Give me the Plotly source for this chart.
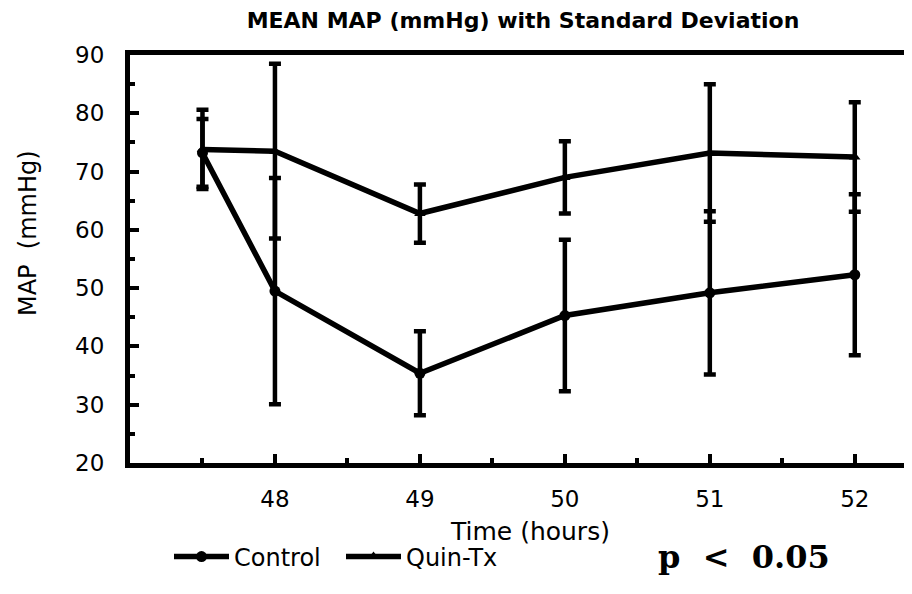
import plotly.graph_objects as go

# ---- data ----
time_hours = [47.5, 48, 49, 50, 51, 52]
control_mean = [73.2, 49.5, 35.4, 45.3, 49.2, 52.3]
control_sd = [5.8, 19.4, 7.2, 13.0, 14.0, 13.8]
quin_mean = [73.8, 73.5, 62.8, 69.0, 73.2, 72.5]
quin_sd = [6.8, 15.0, 5.0, 6.2, 11.8, 9.4]
x_tick_vals = [48, 49, 50, 51, 52]
y_tick_vals = [20, 30, 40, 50, 60, 70, 80, 90]

FONT = "DejaVu Sans"
W, H = 912, 594
L, R, T, B = 122, 0, 47, 139
PW, PH = W - L - R, H - T - B

fig = go.Figure()
fig.add_trace(go.Scatter(
    x=time_hours, y=quin_mean, name="Quin-Tx", mode="lines+markers",
    line=dict(color="black", width=5.5),
    marker=dict(symbol="triangle-up", size=10, color="black"),
    error_y=dict(type="data", array=quin_sd, visible=True, color="black",
                 thickness=4.5, width=6),
))
fig.add_trace(go.Scatter(
    x=time_hours, y=control_mean, name="Control", mode="lines+markers",
    line=dict(color="black", width=5.5),
    marker=dict(symbol="circle", size=11, color="black"),
    error_y=dict(type="data", array=control_sd, visible=True, color="black",
                 thickness=4.5, width=6),
))

fig.update_layout(
    width=W, height=H,
    margin=dict(l=L, r=R, t=T, b=B, autoexpand=False),
    paper_bgcolor="white", plot_bgcolor="white",
    font=dict(family=FONT, color="black", size=20),
    title=dict(text="<b>MEAN MAP (mmHg) with Standard Deviation</b>",
               font=dict(family=FONT, size=22, color="black"),
               x=515 / W, xref="container", xanchor="center",
               y=1 - 12 / H, yref="container", yanchor="middle"),
    showlegend=True,
    legend=dict(orientation="h", x=161 / W, xref="container", xanchor="left",
                y=1 - 549 / H, yref="container", yanchor="middle",
                traceorder="reversed", itemwidth=55,
                entrywidth=102, entrywidthmode="pixels",
                font=dict(family=FONT, size=24, color="black"),
                bgcolor="rgba(0,0,0,0)"),
    xaxis=dict(range=[47, 52.45], tickvals=x_tick_vals, automargin=False,
               ticks="inside", ticklen=9, tickwidth=3.5, tickcolor="black",
               showline=True, linewidth=5, linecolor="black", mirror=True,
               showgrid=False, zeroline=False,
               tickfont=dict(family=FONT, size=23),
               ticklabelstandoff=11,
               minor=dict(dtick=0.5, tick0=47.5, ticks="inside", ticklen=5,
                          tickwidth=3.5, tickcolor="black", showgrid=False)),
    yaxis=dict(range=[20, 90], tickvals=y_tick_vals, automargin=False,
               ticks="inside", ticklen=9, tickwidth=3.5, tickcolor="black",
               showline=True, linewidth=5, linecolor="black",
               showgrid=False, zeroline=False,
               tickfont=dict(family=FONT, size=23),
               ticklabelstandoff=16,
               minor=dict(dtick=5, tick0=20, ticks="inside", ticklen=5,
                          tickwidth=3.5, tickcolor="black", showgrid=False)),
)

# axis titles placed at the reference positions
fig.add_annotation(
    text="Time (hours)", xref="paper", yref="paper",
    x=(522 - L) / PW, y=(H - B - 523) / PH,
    xanchor="center", yanchor="middle", showarrow=False,
    font=dict(family=FONT, size=25, color="black"),
)
fig.add_annotation(
    text="MAP  (mmHg)", xref="paper", yref="paper",
    x=(20 - L) / PW, y=(H - B - 225) / PH,
    xanchor="center", yanchor="middle", textangle=-90, showarrow=False,
    font=dict(family=FONT, size=24, color="black"),
)

fig.add_annotation(
    text="<b>p  &lt;  0.05</b>", xref="paper", yref="paper",
    x=(736 - L) / PW, y=(H - B - 549) / PH,
    xanchor="center", yanchor="middle", showarrow=False,
    font=dict(family="DejaVu Serif", size=32, color="black"),
)

fig.write_html("out.html")
